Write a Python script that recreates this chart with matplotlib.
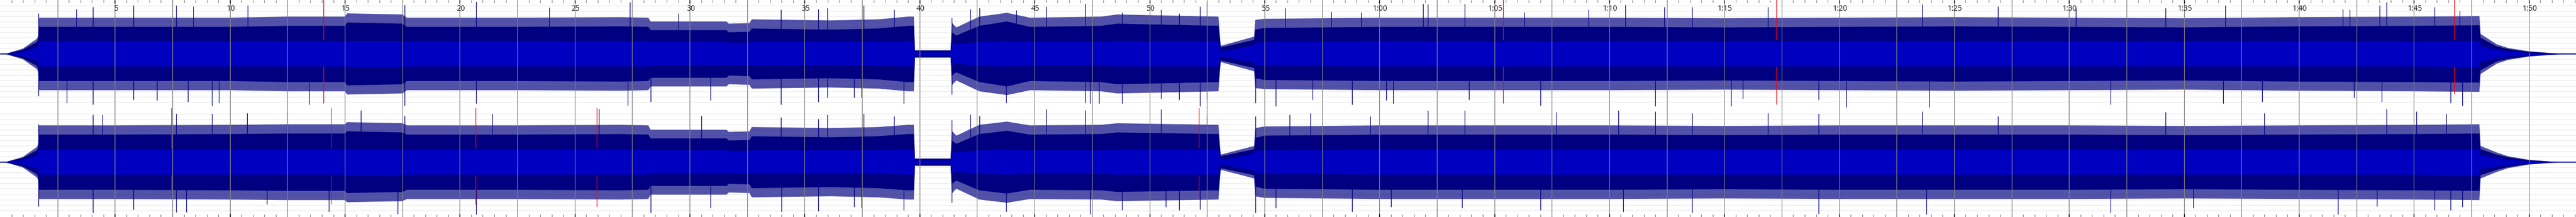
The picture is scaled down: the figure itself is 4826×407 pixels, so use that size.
import numpy as np
import matplotlib.pyplot as plt

# time axis: seconds, 43.07 px per second, 4826 px wide
px_per_s = 43.07
t_end = 4826 / px_per_s

# envelope breakpoints (s) shared by both channels
t_knots = [0.0, 0.3, 1.0, 1.6, 1.66, 1.7, 5.0, 10.0, 12.5, 15.0,
           15.1, 17.5, 17.7, 22.5, 27.0, 28.2, 28.3, 31.6, 31.7, 32.6,
           32.7, 36.1, 38.2, 39.5, 39.75, 39.8, 41.35, 41.4, 41.6, 42.6,
           43.8, 44.8, 47.9, 48.6, 53.0, 53.1, 54.55, 54.6, 55.0, 60.0,
           65.0, 70.0, 75.0, 80.0, 85.0, 90.0, 95.0, 100.0, 105.0, 107.85,
           107.9, 108.6, 109.1, 110.0, 110.9, 111.3, 112.2]

# left channel (fraction of full scale)
body_l = [0.006, 0.008, 0.08, 0.22, 0.28, 0.50, 0.50, 0.50, 0.52, 0.52,
          0.58, 0.56, 0.50, 0.50, 0.51, 0.50, 0.44, 0.44, 0.40, 0.41,
          0.47, 0.45, 0.47, 0.52, 0.52, 0.06, 0.06, 0.40, 0.34, 0.52,
          0.60, 0.50, 0.52, 0.56, 0.52, 0.12, 0.26, 0.45, 0.48, 0.50,
          0.50, 0.50, 0.49, 0.50, 0.51, 0.50, 0.49, 0.51, 0.52, 0.53,
          0.30, 0.14, 0.09, 0.04, 0.015, 0.008, 0.006]
fringe_l = [0.006, 0.01, 0.10, 0.28, 0.33, 0.67, 0.67, 0.67, 0.69, 0.69,
            0.75, 0.73, 0.67, 0.67, 0.68, 0.67, 0.60, 0.60, 0.56, 0.57,
            0.64, 0.62, 0.64, 0.69, 0.69, 0.07, 0.07, 0.58, 0.49, 0.69,
            0.76, 0.67, 0.69, 0.73, 0.69, 0.15, 0.32, 0.63, 0.65, 0.67,
            0.67, 0.67, 0.66, 0.67, 0.68, 0.67, 0.66, 0.68, 0.69, 0.70,
            0.37, 0.18, 0.11, 0.05, 0.02, 0.01, 0.006]
rms_l = [0.003, 0.004, 0.04, 0.12, 0.15, 0.23, 0.23, 0.23, 0.23, 0.23,
         0.24, 0.24, 0.23, 0.23, 0.23, 0.23, 0.22, 0.22, 0.21, 0.21,
         0.22, 0.22, 0.22, 0.23, 0.23, 0.03, 0.03, 0.20, 0.18, 0.22,
         0.23, 0.22, 0.22, 0.23, 0.23, 0.04, 0.16, 0.21, 0.22, 0.23,
         0.23, 0.23, 0.23, 0.23, 0.23, 0.23, 0.23, 0.23, 0.23, 0.24,
         0.15, 0.08, 0.05, 0.02, 0.008, 0.004, 0.003]

# right channel
body_r = [0.006, 0.008, 0.08, 0.22, 0.28, 0.51, 0.51, 0.52, 0.53, 0.53,
          0.57, 0.55, 0.51, 0.51, 0.52, 0.51, 0.44, 0.44, 0.40, 0.41,
          0.48, 0.46, 0.48, 0.52, 0.52, 0.06, 0.06, 0.40, 0.34, 0.52,
          0.58, 0.51, 0.52, 0.55, 0.52, 0.11, 0.24, 0.45, 0.49, 0.51,
          0.51, 0.51, 0.50, 0.51, 0.51, 0.51, 0.50, 0.51, 0.52, 0.53,
          0.24, 0.14, 0.09, 0.035, 0.01, 0.006, 0.006]
fringe_r = [0.006, 0.01, 0.10, 0.28, 0.33, 0.68, 0.68, 0.69, 0.70, 0.70,
            0.74, 0.72, 0.68, 0.68, 0.69, 0.68, 0.60, 0.60, 0.56, 0.57,
            0.65, 0.63, 0.65, 0.69, 0.69, 0.07, 0.07, 0.58, 0.49, 0.69,
            0.75, 0.68, 0.69, 0.72, 0.69, 0.14, 0.30, 0.63, 0.66, 0.68,
            0.68, 0.68, 0.67, 0.68, 0.68, 0.68, 0.67, 0.68, 0.69, 0.70,
            0.30, 0.18, 0.11, 0.045, 0.015, 0.008, 0.006]
rms_r = [0.003, 0.004, 0.04, 0.12, 0.15, 0.23, 0.23, 0.23, 0.23, 0.23,
         0.24, 0.24, 0.23, 0.23, 0.23, 0.23, 0.22, 0.22, 0.21, 0.21,
         0.22, 0.22, 0.22, 0.23, 0.23, 0.03, 0.03, 0.20, 0.18, 0.22,
         0.23, 0.22, 0.22, 0.23, 0.23, 0.04, 0.16, 0.21, 0.22, 0.23,
         0.23, 0.23, 0.23, 0.23, 0.23, 0.23, 0.23, 0.23, 0.23, 0.24,
         0.13, 0.08, 0.05, 0.02, 0.006, 0.004, 0.003]

# tallest peaks (s, fraction)
up_t_l = [1.67, 3.32, 4.04, 5.8, 7.66, 8.4, 10.78, 17.6, 20.7, 23.9, 27.4, 29.5, 33.96,
          35.6, 35.98, 37.57, 38.9, 41.4, 42.2, 42.6, 44.2, 45.5, 47.2, 48.8, 50.0, 50.5,
          51.3, 52.2, 52.5, 55.9, 57.9, 59.2, 61.9, 62.1, 63.7, 66.3, 69.1, 70.7, 72.4, 73.6,
          76.9, 83.6, 86.9, 90.3, 94.2, 96.8, 101.9, 102.2, 103.5, 103.8, 105.9, 107.0]
up_a_l = [0.75, 0.83, 0.87, 0.90, 0.90, 0.88, 0.90, 0.91, 0.97, 0.86, 0.96, 0.75, 0.82,
          0.83, 0.85, 0.90, 0.82, 0.67, 0.83, 0.85, 0.81, 0.88, 0.93, 0.77, 0.72, 0.82,
          0.75, 0.88, 0.95, 0.85, 0.78, 0.77, 0.93, 0.92, 0.93, 0.77, 0.82, 0.91, 0.87, 0.87,
          0.87, 0.92, 0.88, 0.85, 0.85, 0.90, 0.83, 0.82, 0.90, 0.96, 0.87, 0.80]
dn_t_l = [1.67, 2.9, 4.04, 5.8, 6.83, 8.17, 9.22, 9.53, 13.44, 17.6, 20.7, 27.3, 28.3, 30.9,
          33.96, 35.6, 35.98, 37.15, 37.48, 39.3, 41.4, 43.77, 47.2, 47.4, 47.8, 48.8, 50.5,
          51.3, 52.2, 52.5, 54.6, 55.5, 57.1, 58.8, 60.3, 60.6, 63.9, 67.0, 72.0, 75.3, 75.8,
          79.1, 80.3, 83.9, 91.8, 96.7, 98.4, 102.4, 103.6, 106.6, 107.1]
dn_a_l = [0.78, 0.90, 0.93, 0.85, 0.86, 0.88, 0.95, 0.90, 0.93, 0.95, 0.91, 0.95, 0.88, 0.86,
          0.93, 0.88, 0.81, 0.81, 0.81, 0.91, 0.75, 0.90, 0.90, 0.91, 0.91, 0.91, 0.83,
          0.85, 0.96, 0.85, 0.90, 0.96, 0.85, 0.93, 0.86, 0.91, 0.85, 0.95, 0.96, 0.96, 0.83,
          0.85, 0.98, 0.98, 0.93, 0.91, 0.88, 0.81, 0.88, 0.90, 0.95]

up_t_r = [1.67, 4.04, 4.46, 7.66, 9.22, 10.75, 12.5, 15.7, 17.6, 21.4, 26.05, 30.5, 33.96,
          35.6, 35.98, 37.57, 38.9, 41.4, 42.2, 42.6, 45.5, 47.2, 50.5, 52.5, 54.6, 56.1,
          57.0, 59.6, 62.1, 63.7, 67.7, 70.4, 72.0, 73.6, 76.9, 79.1, 83.6, 86.9, 94.2, 98.5,
          103.8, 105.1, 106.4]
up_a_r = [0.70, 0.88, 0.88, 0.90, 0.90, 0.91, 0.93, 0.96, 0.86, 0.90, 0.99, 0.86, 0.83,
          0.80, 0.88, 0.90, 0.85, 0.78, 0.88, 0.86, 0.98, 0.96, 0.98, 0.85, 0.85, 0.88,
          0.91, 0.85, 0.96, 0.96, 0.93, 0.96, 0.94, 0.91, 0.91, 0.90, 0.94, 0.85, 0.93, 0.91,
          0.99, 0.94, 0.90]
dn_t_r = [1.67, 4.04, 5.8, 7.66, 8.1, 11.6, 14.3, 17.3, 20.7, 28.3, 30.9, 34.0, 35.6,
          37.15, 37.48, 39.3, 41.4, 43.77, 47.4, 48.8, 50.7, 51.3, 52.2, 54.6, 55.5, 58.8,
          60.5, 63.6, 67.0, 70.6, 73.6, 79.1, 83.8, 91.8, 95.4, 101.7, 103.4, 105.9, 106.6,
          107.1]
dn_a_r = [0.82, 0.93, 0.87, 0.92, 0.92, 0.78, 0.91, 0.95, 0.96, 0.93, 0.85, 0.91, 0.90,
          0.83, 0.85, 0.88, 0.75, 0.91, 0.96, 0.88, 0.83, 0.88, 0.87, 0.93, 0.85, 0.91,
          0.83, 0.85, 0.88, 0.91, 0.93, 0.95, 0.96, 0.93, 0.85, 0.96, 0.82, 0.88, 0.88,
          0.83]

# clip markers (s, lower reach as fraction)
clip_t_l = [14.07, 65.39, 77.27, 106.76]
clip_lo_l = [0.90, 0.90, 0.92, 0.73]
clip_t_r = [7.45, 14.40, 20.69, 25.96, 52.15]
clip_lo_r = [0.67, 0.77, 0.78, 0.82, 0.62]

label_t = list(range(5, 115, 5))
label_txt = ['5', '10', '15', '20', '25', '30', '35', '40', '45', '50', '55',
             '1:00', '1:05', '1:10', '1:15', '1:20', '1:25', '1:30', '1:35',
             '1:40', '1:45', '1:50']

navy = '#000080'
blue = '#0000C0'
half = 101.5
centers = [101.2, 304.2]

fig = plt.figure(figsize=(48.26, 4.07), dpi=100)
ax = fig.add_axes([0, 0, 1, 1])
ax.set_xlim(0, t_end)
ax.set_ylim(407, 0)
ax.axis('off')

# faint level lines
for c in centers:
    for k in range(1, 10):
        ax.axhline(c - 10.05 * k, color='#f2f2f2', lw=1.4, zorder=0)
        ax.axhline(c + 10.05 * k, color='#f2f2f2', lw=1.4, zorder=0)


def draw_channel(c, body, fringe, rms, ut, ua, dt, da, ct, clo):
    b = np.array(body) * half
    f = np.array(fringe) * half
    r = np.array(rms) * half
    ax.plot([0, t_end], [c, c], color=navy, lw=1.0, zorder=1)
    ax.fill_between(t_knots, c - f, c + f, color=navy, alpha=0.68, lw=0, zorder=2)
    ax.fill_between(t_knots, c - b, c + b, color=navy, lw=0, zorder=3)
    ax.vlines(ut, c, c - np.array(ua) * half, color=navy, lw=0.9, zorder=3)
    ax.vlines(dt, c, c + np.array(da) * half, color=navy, lw=0.9, zorder=3)
    ax.fill_between(t_knots, c - r, c + r, color=blue, lw=0, zorder=4)
    for t, lo in zip(ct, clo):
        ax.plot([t, t], [c - half, c - 0.27 * half], color='red', lw=0.9, zorder=6)
        ax.plot([t, t], [c + 0.24 * half, c + lo * half], color='red', lw=0.9, zorder=6)


draw_channel(centers[0], body_l, fringe_l, rms_l, up_t_l, up_a_l, dn_t_l, dn_a_l,
             clip_t_l, clip_lo_l)
draw_channel(centers[1], body_r, fringe_r, rms_r, up_t_r, up_a_r, dn_t_r, dn_a_r,
             clip_t_r, clip_lo_r)

# vertical grid every 2.5 s
grid_t = np.arange(2.5, t_end, 2.5)
ax.vlines(grid_t, 0, 407, color='#808080', lw=0.9, zorder=5)

# ruler ticks top and bottom
minor_t = np.arange(0.5, t_end, 0.5)
ax.vlines(minor_t, 0, 5, color='#808080', lw=0.9, zorder=6)
ax.vlines(minor_t, 402, 407, color='#808080', lw=0.9, zorder=6)
ax.vlines(label_t, 0, 6, color='black', lw=1.0, zorder=7)
ax.vlines(label_t, 401, 407, color='black', lw=1.0, zorder=7)

for t, s in zip(label_t, label_txt):
    ax.text(t + 0.04, 17, s, ha='center', va='center', fontsize=10,
            family='Open Sans', color='#111111', zorder=8)

fig.savefig('out.png', dpi=100)
